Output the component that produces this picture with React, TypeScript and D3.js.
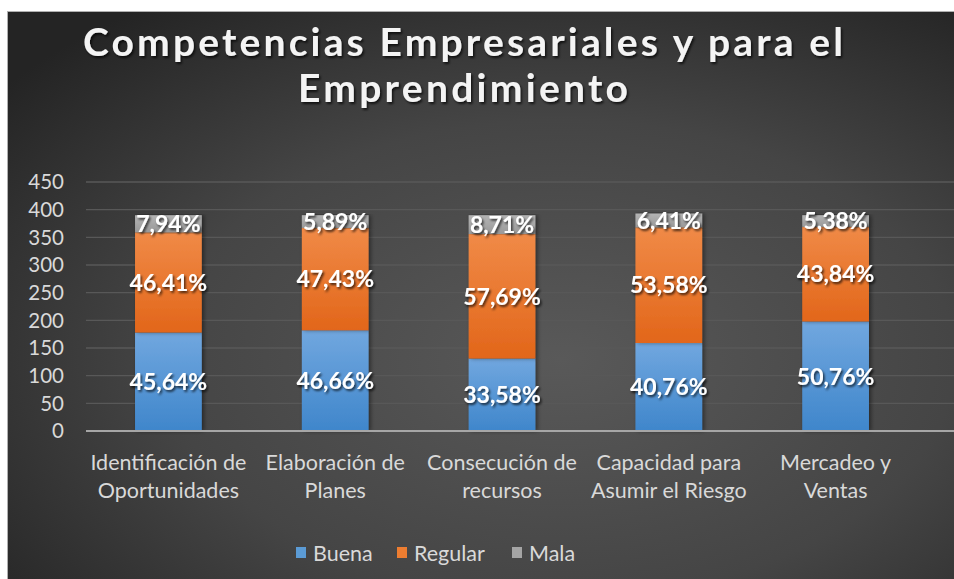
import React from "react";
import * as d3 from "d3";

const categories = [
  ["Identificación de", "Oportunidades"],
  ["Elaboración de", "Planes"],
  ["Consecución de", "recursos"],
  ["Capacidad para", "Asumir el Riesgo"],
  ["Mercadeo y", "Ventas"],
];
const seriesNames = ["Buena", "Regular", "Mala"];
const buena = [178, 182, 131, 159, 198];
const regular = [181, 185, 225, 209, 171];
const mala = [31, 23, 34, 25, 21];
const buenaPct = ["45,64%", "46,66%", "33,58%", "40,76%", "50,76%"];
const regularPct = ["46,41%", "47,43%", "57,69%", "53,58%", "43,84%"];
const malaPct = ["7,94%", "5,89%", "8,71%", "6,41%", "5,38%"];
const yTicks = [0, 50, 100, 150, 200, 250, 300, 350, 400, 450];
const titleLines = ["Competencias Empresariales y para el", "Emprendimiento"];

const W = 954;
const H = 579;
const FONT = "Lato, 'Open Sans', sans-serif";

export default function App() {
  const x = d3
    .scaleBand<number>()
    .domain(d3.range(categories.length))
    .range([85, 919])
    .paddingInner(0.6)
    .paddingOuter(0.3);
  const y = d3.scaleLinear().domain([0, 450]).range([431, 182]);

  const seriesLbls = [buenaPct, regularPct, malaPct];
  const rows = categories.map((_, i) => ({
    i,
    Buena: buena[i],
    Regular: regular[i],
    Mala: mala[i],
  }));
  const stack = d3.stack<any>().keys(seriesNames)(rows);
  const grads = ["gBlue", "gOrange", "gGrey"];
  const legendColors = ["#5b9bd5", "#ed7d31", "#a5a5a5"];

  const legendX = [296, 397, 512];

  return (
    <div style={{ position: "absolute", left: 0, top: 0 }}>
      <svg width={W} height={H} style={{ display: "block" }}>
        <defs>
          <radialGradient id="bg" cx="0.58" cy="0.6" r="0.75">
            <stop offset="0" stopColor="#595959" />
            <stop offset="0.55" stopColor="#454545" />
            <stop offset="1" stopColor="#242424" />
          </radialGradient>
          <linearGradient id="gBlue" x1="0" y1="0" x2="0" y2="1">
            <stop offset="0" stopColor="#71a7df" />
            <stop offset="1" stopColor="#3f86cb" />
          </linearGradient>
          <linearGradient id="gOrange" x1="0" y1="0" x2="0" y2="1">
            <stop offset="0" stopColor="#f08a47" />
            <stop offset="1" stopColor="#e2661a" />
          </linearGradient>
          <linearGradient id="gGrey" x1="0" y1="0" x2="0" y2="1">
            <stop offset="0" stopColor="#b4b4b4" />
            <stop offset="1" stopColor="#999999" />
          </linearGradient>
          <filter id="ts" x="-10%" y="-20%" width="130%" height="150%">
            <feDropShadow dx="1.5" dy="2" stdDeviation="1.2" floodColor="#000" floodOpacity="0.7" />
          </filter>
          <filter id="bs" x="-20%" y="-5%" width="140%" height="110%">
            <feDropShadow dx="2" dy="0" stdDeviation="2" floodColor="#000" floodOpacity="0.45" />
          </filter>
        </defs>
        <rect x={0} y={0} width={W} height={H} fill="#ffffff" />
        <rect x={7.5} y={11.5} width={W} height={H} fill="url(#bg)" stroke="#b0b0b0" strokeWidth={1} />

        {/* Title */}
        {titleLines.map((t, i) => (
          <text
            key={t}
            x={463}
            y={56 + i * 46}
            textAnchor="middle"
            fontFamily={FONT}
            fontWeight={700}
            fontSize={39}
            fill="#f4f4f4"
            filter="url(#ts)"
            textLength={i === 0 ? 760 : 330}
            lengthAdjust="spacing"
          >
            {t}
          </text>
        ))}

        {/* gridlines */}
        {yTicks.slice(1).map((t) => (
          <line key={t} x1={86} x2={W} y1={y(t)} y2={y(t)} stroke="#585858" strokeWidth={1.3} />
        ))}

        {/* y tick labels */}
        {yTicks.map((t) => (
          <text
            key={t}
            x={64}
            y={y(t)}
            dy="0.35em"
            textAnchor="end"
            fontFamily={FONT}
            fontSize={20.5}
            fill="#d9d9d9"
          >
            {t}
          </text>
        ))}

        {/* bars */}
        {stack.map((s, si) => (
          <g key={s.key}>
            {s.map((d, i) => (
              <rect
                key={i}
                x={x(i)!}
                width={x.bandwidth()}
                y={y(d[1])}
                height={y(d[0]) - y(d[1])}
                fill={`url(#${grads[si]})`}
                filter="url(#bs)"
              />
            ))}
          </g>
        ))}

        {/* axis line */}
        <line x1={86} x2={W} y1={y(0)} y2={y(0)} stroke="#a6a6a6" strokeWidth={2.2} />

        {/* data labels */}
        {stack.map((s, si) => (
          <g key={"l" + s.key}>
            {s.map((d, i) => (
              <text
                key={i}
                x={x(i)! + x.bandwidth() / 2}
                y={(y(d[0]) + y(d[1])) / 2}
                dy="0.36em"
                textAnchor="middle"
                fontFamily={FONT}
                fontWeight={700}
                fontSize={23}
                fill="#ffffff"
                filter="url(#ts)"
              >
                {seriesLbls[si][i]}
              </text>
            ))}
          </g>
        ))}

        {/* category labels */}
        {categories.map((c, i) =>
          c.map((line, li) => (
            <text
              key={i + "-" + li}
              x={x(i)! + x.bandwidth() / 2}
              y={470 + li * 28}
              textAnchor="middle"
              fontFamily={FONT}
              fontSize={21.5}
              fill="#d9d9d9"
            >
              {line}
            </text>
          ))
        )}

        {/* legend */}
        {seriesNames.map((n, i) => (
          <g key={n}>
            <rect x={legendX[i]} y={547} width={10} height={11} fill={legendColors[i]} />
            <text
              x={legendX[i] + 17}
              y={553}
              dy="0.35em"
              fontFamily={FONT}
              fontSize={21.5}
              fill="#d9d9d9"
            >
              {n}
            </text>
          </g>
        ))}
      </svg>
    </div>
  );
}
